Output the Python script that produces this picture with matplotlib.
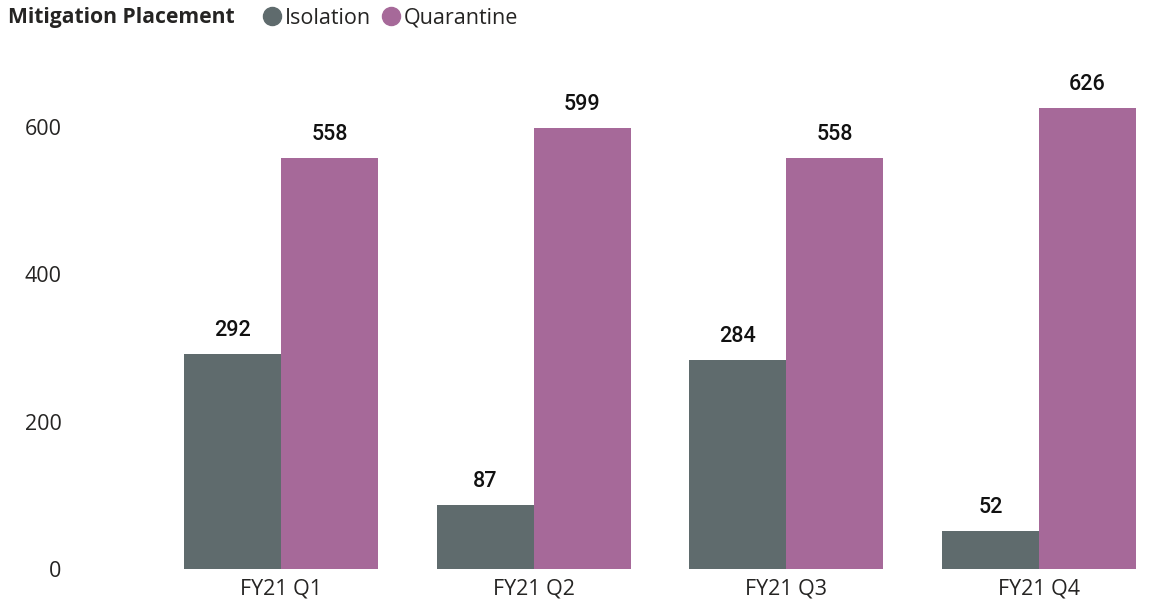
import matplotlib.pyplot as plt
import numpy as np
from matplotlib.lines import Line2D

plt.rcParams['font.family'] = ['Open Sans', 'DejaVu Sans']

quarters = ['FY21 Q1', 'FY21 Q2', 'FY21 Q3', 'FY21 Q4']
isolation = [292, 87, 284, 52]
quarantine = [558, 599, 558, 626]

grey = '#5f6b6d'
purple = '#a66999'

W, H = 1157, 607
fig = plt.figure(figsize=(W / 100, H / 100), dpi=100)

# axes placed in pixel units: category spacing ~252.7px, y scale 442px per 600
step = 252.7
left_px = 281 - 0.5 * step
ax_w = 3.9 * step
bottom_px = H - 569
ymax = 640
ax_h = ymax * 442 / 600
ax = fig.add_axes([left_px / W, bottom_px / H, ax_w / W, ax_h / H])

x = np.arange(len(quarters))
bw = 97 / step
b1 = ax.bar(x - bw / 2, isolation, bw, color=grey)
b2 = ax.bar(x + bw / 2, quarantine, bw, color=purple)

for bars, vals in ((b1, isolation), (b2, quarantine)):
    for b, v in zip(bars, vals):
        ax.annotate(str(v), (b.get_x() + b.get_width() / 2, v),
                    xytext=(0, 9), textcoords='offset points',
                    ha='center', va='bottom', fontsize=15.5,
                    fontweight='medium', color='#111111',
                    family=['Roboto', 'DejaVu Sans'])

ax.set_xlim(-0.5, 3.4)
ax.set_ylim(0, ymax)
ax.set_xticks(x)
ax.set_xticklabels(quarters)
ax.set_yticks([0, 200, 400, 600])
ax.tick_params(axis='both', length=0, colors='#252423')
ax.tick_params(axis='x', labelsize=15.5, pad=7)
ax.tick_params(axis='y', labelsize=15.5, pad=67)
for s in ax.spines.values():
    s.set_visible(False)

fig.text(8 / W, 1 - 18 / H, 'Mitigation Placement', fontsize=15.2,
         fontweight='bold', color='#252423', va='center', ha='left')
handles = [Line2D([], [], marker='o', ls='', markersize=13, color=grey),
           Line2D([], [], marker='o', ls='', markersize=13, color=purple)]
fig.legend(handles, ['Isolation', 'Quarantine'], loc='center left',
           bbox_to_anchor=(248 / W, 1 - 18 / H), ncol=2, frameon=False,
           fontsize=15.5, handletextpad=0.0, columnspacing=0.35,
           handlelength=1.2, borderpad=0, labelcolor='#252423')

fig.savefig('out.png', dpi=100)
